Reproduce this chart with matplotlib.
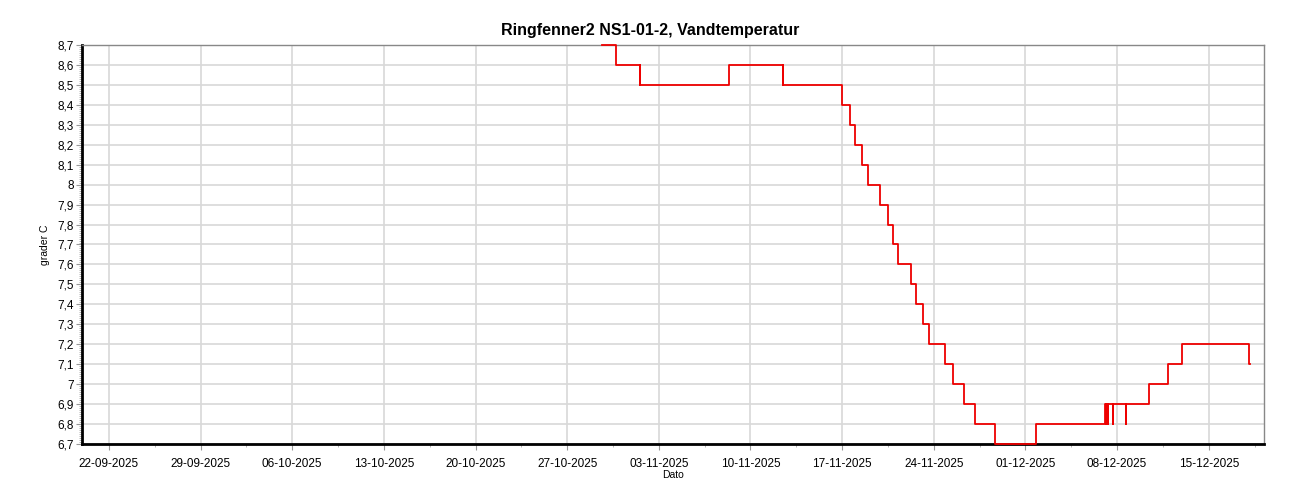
import numpy as np
import matplotlib

matplotlib.use("Agg")
import matplotlib.pyplot as plt
import matplotlib.dates as mdates
from matplotlib.ticker import FuncFormatter, MultipleLocator

# step changes of water temperature (timestamp of change, new value)
times = [
    "2025-10-29 16:00", "2025-10-30 17:30", "2025-11-01 13:30", "2025-11-01 14:00",
    "2025-11-01 14:20", "2025-11-08 08:40", "2025-11-12 11:30", "2025-11-12 11:50",
    "2025-11-12 12:10", "2025-11-17 00:00", "2025-11-17 14:40", "2025-11-17 23:45",
    "2025-11-18 13:10", "2025-11-18 23:00", "2025-11-19 21:40", "2025-11-20 12:45",
    "2025-11-20 20:50", "2025-11-21 07:10", "2025-11-22 05:45", "2025-11-22 15:35",
    "2025-11-23 05:00", "2025-11-23 15:20", "2025-11-24 20:50", "2025-11-25 12:00",
    "2025-11-26 07:40", "2025-11-27 03:50", "2025-11-28 16:30", "2025-12-01 19:40",
    "2025-12-07 02:10", "2025-12-07 03:00", "2025-12-07 04:00", "2025-12-07 05:00",
    "2025-12-07 06:00", "2025-12-07 07:00", "2025-12-07 08:00", "2025-12-07 09:00",
    "2025-12-07 16:00", "2025-12-07 16:30", "2025-12-08 16:30", "2025-12-08 17:00",
    "2025-12-10 09:40", "2025-12-11 20:25", "2025-12-12 22:50", "2025-12-18 02:40",
    "2025-12-18 03:00",
]
values = [
    8.7, 8.6, 8.5, 8.6,
    8.5, 8.6, 8.5, 8.6,
    8.5, 8.4, 8.3, 8.2,
    8.1, 8.0, 7.9, 7.8,
    7.7, 7.6, 7.5, 7.4,
    7.3, 7.2, 7.1, 7.0,
    6.9, 6.8, 6.7, 6.8,
    6.9, 6.8, 6.9, 6.8,
    6.9, 6.8, 6.9, 6.9,
    6.8, 6.9, 6.8, 6.9,
    7.0, 7.1, 7.2, 7.1,
    7.1,
]
week_ticks = ["2025-09-22", "2025-09-29", "2025-10-06", "2025-10-13", "2025-10-20",
              "2025-10-27", "2025-11-03", "2025-11-10", "2025-11-17", "2025-11-24",
              "2025-12-01", "2025-12-08", "2025-12-15"]

t = np.array(times, dtype="datetime64[m]").astype("datetime64[s]").astype(object)
wk = np.array(week_ticks, dtype="datetime64[D]").astype(object)

plt.rcParams.update({"font.family": ["Liberation Sans", "DejaVu Sans"], "font.size": 8})

fig = plt.figure(figsize=(13, 5), dpi=100)
ax = fig.add_axes([0.063, 0.112, 0.9095, 0.798])

ax.step(t, values, where="post", color="#ee0000", lw=1.3, zorder=3, clip_on=False)

x0 = mdates.date2num(np.datetime64("2025-09-19T22:30"))
x1 = mdates.date2num(np.datetime64("2025-12-19T05:45"))

ax.set_xticks(mdates.date2num(wk))
ax.xaxis.set_major_formatter(mdates.DateFormatter("%d-%m-%Y"))
ax.set_xticks(mdates.date2num(wk)[0] + np.arange(0, 88, 3.5), minor=True)
ax.set_xlim(x0, x1)
ax.set_ylim(6.7, 8.7)
ax.yaxis.set_major_locator(MultipleLocator(0.1))
ax.yaxis.set_minor_locator(MultipleLocator(0.01))
ax.yaxis.set_major_formatter(FuncFormatter(lambda v, p: f"{round(v, 1):g}".replace(".", ",")))

ax.grid(True, which="major", color="#d8d8d8", lw=1.2)
ax.set_axisbelow(True)
ax.tick_params(which="major", length=4, color="#999999", labelsize=8.5)
ax.tick_params(axis="x", which="major", pad=6)
ax.tick_params(axis="y", which="major", pad=2)
ax.tick_params(which="minor", length=2, color="#aaaaaa")

for side in ("left", "bottom"):
    ax.spines[side].set_color("black")
    ax.spines[side].set_linewidth(2)
for side in ("top", "right"):
    ax.spines[side].set_color("#888888")
    ax.spines[side].set_linewidth(1)

fig.text(0.5, 0.94, "Ringfenner2 NS1-01-2, Vandtemperatur", ha="center", va="center",
         fontsize=11.5, fontweight="bold")
ax.set_xlabel("Dato", fontsize=7.5, labelpad=0)
ax.set_ylabel("grader C", fontsize=7.5, labelpad=5)

fig.savefig("out.png", dpi=100)
